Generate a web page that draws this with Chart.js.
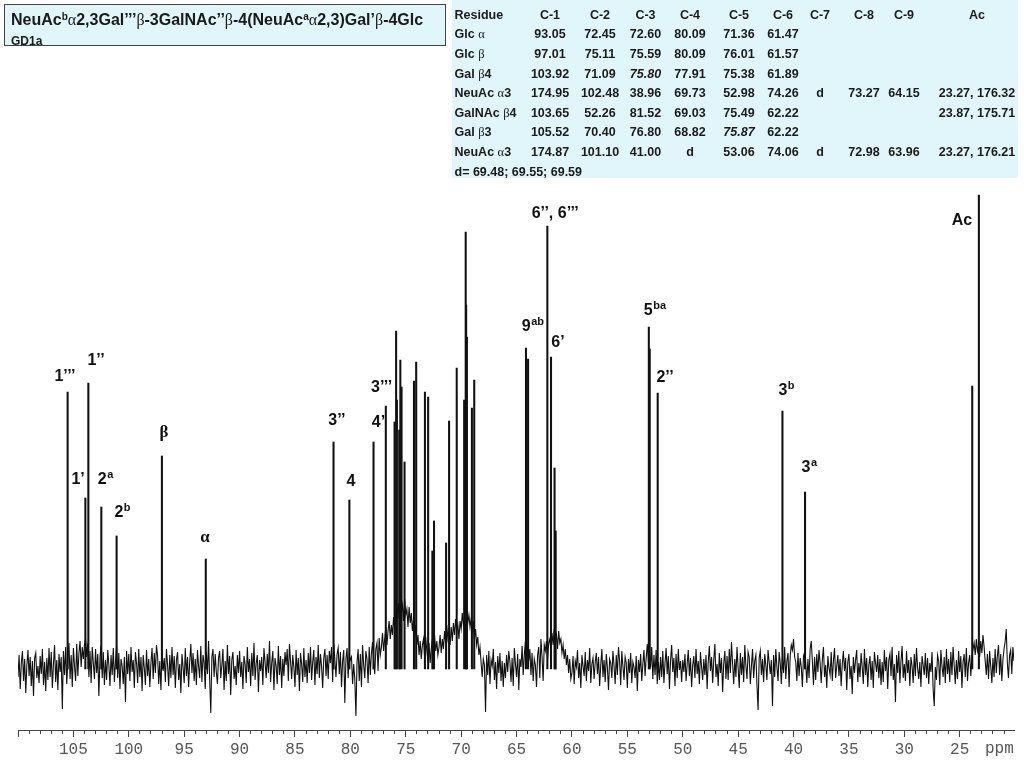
<!DOCTYPE html>
<html>
<head>
<meta charset="utf-8">
<script src="https://cdn.jsdelivr.net/npm/chart.js@4.4.1/dist/chart.umd.min.js"></script>
<style>
  html, body { margin: 0; padding: 0; background: #fff; }
  #wrap { position: relative; width: 1024px; height: 768px; overflow: hidden; }
  #chart { position: absolute; left: 0; top: 0; }
  .panel { position: absolute; background: #e1f6fa; color: #1a1a1a;
           font-family: "Liberation Sans", Arial, sans-serif; font-weight: bold; }
  #title { left: 4px; top: 4px; width: 440px; height: 40px; border: 1.5px solid #444; }
  #title .l1 { position: absolute; left: 6px; top: 5px; font-size: 16px; line-height: 20px; white-space: nowrap; }
  #title .l2 { position: absolute; left: 6px; top: 28px; font-size: 12px; line-height: 16px; }
  #title sup { font-size: 10px; vertical-align: 5px; line-height: 0; }
  .g { font-family: "Liberation Serif", serif; font-weight: normal; }
  #table { left: 452px; top: 0; width: 566px; height: 178px; font-size: 12.5px; }
  .cell { position: absolute; width: 120px; margin-left: -60px; margin-top: -8px;
          line-height: 16px; text-align: center; white-space: nowrap; }
  .cell.left { width: auto; margin-left: 0; text-align: left; }
  .cell i { font-style: italic; }
</style>
</head>
<body>
<div id="wrap">
  <canvas id="chart" width="1024" height="768"></canvas>
  <div id="title" class="panel">
    <div class="l1">NeuAc<sup>b</sup><span class="g">α</span>2,3Gal’’’<span class="g">β</span>-3GalNAc’’<span class="g">β</span>-4(NeuAc<sup>a</sup><span class="g">α</span>2,3)Gal’<span class="g">β</span>-4Glc</div>
    <div class="l2">GD1a</div>
  </div>
  <div id="table" class="panel"></div>
</div>
<script>
// table of chemical shifts
const tableHeader = ['Residue', 'C-1', 'C-2', 'C-3', 'C-4', 'C-5', 'C-6', 'C-7', 'C-8', 'C-9', 'Ac'];
const residues = ['Glc α', 'Glc β', 'Gal β4', 'NeuAc α3', 'GalNAc β4', 'Gal β3', 'NeuAc α3'];
const shiftRows = [
  ['93.05', '72.45', '72.60', '80.09', '71.36', '61.47', '', '', '', ''],
  ['97.01', '75.11', '75.59', '80.09', '76.01', '61.57', '', '', '', ''],
  ['103.92', '71.09', '*75.80', '77.91', '75.38', '61.89', '', '', '', ''],
  ['174.95', '102.48', '38.96', '69.73', '52.98', '74.26', 'd', '73.27', '64.15', '23.27, 176.32'],
  ['103.65', '52.26', '81.52', '69.03', '75.49', '62.22', '', '', '', '23.87, 175.71'],
  ['105.52', '70.40', '76.80', '68.82', '*75.87', '62.22', '', '', '', ''],
  ['174.87', '101.10', '41.00', 'd', '53.06', '74.06', 'd', '72.98', '63.96', '23.27, 176.21']
];
const dNote = 'd= 69.48; 69.55; 69.59';

// spectrum: baseline noise sampled every 0.1 ppm from 110 ppm downwards (one row = 2 ppm)
const ppmStart = 110;
const ppmStep = 0.1;
const noise = [
  -8, 14, -20, 6, 18, -12, 10, -24, 4, 19, -7, 12, -17, 8, -27, 11, 16, -9, 3, -14,
  13, -5, 20, -16, 7, -22, 11, -11, 21, -8, 17, -19, 5, 24, -13, 9, -21, 15, -3, 12,
  -40, 18, -6, 22, -15, 8, 26, -10, 14, -18, 21, 3, -12, 25, -7, 16, 28, 2, 22, 10,
  24, 30, 12, 26, -8, 18, -14, 22, 6, -10, 20, -4, 15, -27, 12, 24, -9, 17, -16, 9,
  -11, 19, 4, -17, 14, -6, 21, -13, 8, 23, -9, 16, -20, 10, 3, -15, 12, -33, 18, -5,
  15, -12, 22, -3, 9, -19, 17, 6, -14, 20, -8, 12, -22, 14, 1, -16, 19, -7, 10, -18,
  6, 21, -10, 16, -4, 24, 13, -15, 8, -21, 18, -2, 11, -13, 20, 4, -17, 14, -9, 22,
  -6, 13, -19, 9, 17, -11, 5, -24, 15, 2, -14, 21, -7, 12, -18, 8, 25, -4, 16, -12,
  10, -16, 19, 3, -9, 23, -13, 14, 6, -20, 17, -5, 28, -10, -44, 12, 20, -8, 15, -3,
  -15, 11, 18, -9, 4, 20, -21, 8, -12, 24, -5, 13, -26, 9, 17, -10, 3, -16, 14, -4,
  18, -8, 7, -20, 13, 5, -14, 22, -3, 10, -17, 16, -7, 26, -11, 6, 14, -23, 9, -2,
  12, -16, 21, 7, -9, 15, -4, 28, -13, 6, 18, -21, 11, 3, -15, 23, -6, 13, -19, 10,
  -7, 17, 4, 20, -12, 25, 8, -10, 14, 2, -18, 19, -6, 11, -22, 16, 5, -13, 21, -8,
  9, -14, 16, -4, 22, -11, 7, 19, -16, 12, -5, 24, -9, 15, 3, -19, 11, 20, -7, 14,
  -10, 18, 6, 22, -13, 26, 9, -8, 15, 21, -5, 17, -18, 8, 19, -34, 10, 21, -9, 15,
  9, 12, -15, 5, -10, -47, 7, 20, -12, 15, -18, 24, 4, -9, 18, 10, -14, 22, -6, 16,
  27, 9, -5, 20, 26, -2, 31, 14, 22, 36, 18, 30, 42, 24, 38, 48, 30, 44, 34, 52,
  40, 58, 46, 66, 50, 72, 56, 64, 48, 70, 54, 60, 42, 62, 46, 56, 38, 50, 32, 44,
  24, 34, 14, 28, 10, 24, 30, 12, 32, 18, 8, 26, 6, 20, 30, 10, 34, 18, 28, 14,
  22, 34, 16, 30, 20, 38, 26, 44, 30, 36, 24, 42, 28, 46, 34, 50, 38, 44, 30, 48,
  40, 56, 44, 52, 38, 58, 46, 54, 42, 50, 36, 48, 30, 40, 24, 32, 14, 22, 6, -8,
  10, 4, -43, 14, -6, 18, -15, 9, 3, 20, -11, 7, -20, 13, -4, 16, -12, 8, -18, 6,
  -9, 14, -3, 18, 7, -13, 11, -17, 21, 5, -8, 15, -21, 10, 2, 23, -6, 14, 28, 12,
  24, 8, 20, -6, 16, -12, 10, 4, -18, 14, 22, -9, 30, 12, -12, 24, 18, 28, 10, 26,
  30, 18, 36, 24, 40, 28, 34, 20, 38, 26, 30, 16, 24, 10, 20, 4, 14, -4, 10, -10,
  -4, 13, -15, 8, 2, 19, -9, 6, -19, 14, 3, -7, 17, -12, 9, -2, 21, -14, 5, 11,
  -10, 7, 16, -5, 12, -17, 4, 20, -8, 9, -13, 15, 1, -21, 10, 6, -9, 18, 3, -15,
  14, -6, 22, 8, -16, 18, 3, -11, 12, 6, -19, 10, -4, 16, -14, 7, 2, -9, 13, -22,
  9, -3, 15, -12, 5, 19, -7, 11, 25, 8, 16, 2, 22, -10, 14, -6, 19, -15, 7, -11,
  12, -8, 18, -14, 6, 21, -5, 13, -20, 9, 24, -3, 11, -17, 15, -9, 20, -1, 8, -13,
  9, -3, 15, -12, 5, 19, -7, 11, -18, 4, 13, -9, 20, -5, 8, -15, 17, 2, -11, 10,
  -6, 14, -20, 7, 23, -2, 12, -14, 9, 25, -8, 5, -17, 16, -4, 11, -23, 6, 18, -10,
  13, -11, 20, -4, 27, 6, -15, 10, -8, 22, 1, -19, 16, -6, 12, -13, 24, 3, -10, 17,
  12, -15, 3, 20, -9, 8, 14, -16, -41, 11, 18, -6, 10, -13, 15, 4, -11, 19, 7, -5,
  9, -37, 14, -8, 20, 2, -12, 17, 6, -15, 11, -4, 22, -10, 8, 16, -18, 13, 24, 19,
  30, 12, 7, -12, 16, -7, 11, 2, -18, 13, 17, 6, -14, 10, -9, 20, 28, 8, -16, 12,
  -11, 15, -3, 19, 6, -14, 9, 22, -8, 4, -19, 13, 1, -6, 17, -12, 8, 21, -9, 3,
  14, -7, 10, -17, 5, 18, -2, 11, -21, 7, 15, -10, 3, -25, 12, -4, 9, 19, -13, 6,
  -8, 16, 2, -15, 20, -6, 11, -18, 4, 13, -11, 8, -19, 17, 6, -3, 14, -9, 10, -16,
  7, -13, 19, -2, 12, -20, 9, 15, -7, 22, -11, 5, -33, 14, -4, 18, -14, 8, 23, -9,
  5, -12, 18, -4, 9, -17, 12, 3, -14, 15, -7, 21, 1, -10, 7, -18, 13, 4, -6, 16,
  -9, 11, -15, 6, -3, 17, -20, -37, 2, -11, 14, 8, -16, 19, 3, -8, 12, -14, 20, -5,
  10, -13, 17, -6, 22, 4, -15, 9, -10, 18, -3, 13, -19, 7, 15, -8, 21, -12, 6, 14,
  -7, 12, 20, 26, 14, 30, 18, 24, 12, 28, 16, 34, 22, 8, -6, 15, -10, 18, 3, -14,
  11, -8, 20, -4, 13, 24, -6, 15, -12, 9, 20, 27, 40, 6, -9, 14, 19, -5, 22, 8
];

// resonances (ppm) and their heights above the baseline
const peakPpm = [105.52, 103.92, 103.65, 102.48, 101.10, 97.01, 93.05, 81.52, 80.09, 77.91,
  76.80, 76.01, 75.87, 75.80, 75.59, 75.49, 75.38, 75.11, 74.26, 74.06,
  73.27, 72.98, 72.60, 72.45, 71.36, 71.09, 70.40, 69.73, 69.59, 69.55,
  69.48, 69.03, 68.82, 64.15, 63.96, 62.22, 61.89, 61.57, 61.47, 53.06,
  52.98, 52.26, 41.00, 38.96, 23.87, 23.27];
const peakHeight = [277, 171, 286, 162, 133, 213, 110, 227, 169, 227,
  263, 247, 338, 269, 239, 309, 282, 207, 288, 307,
  277, 272, 118, 148, 126, 248, 301, 269, 437, 364,
  332, 261, 289, 321, 310, 443, 312, 201, 138, 342,
  320, 276, 258, 177, 283, 474];

// assignment labels
const labelMain = ['1’’’', '1’’', '1’', '2', '2', 'β', 'α', '3’’', '4', '4’', '3’’’', '9', '6’’, 6’’’', '6’', '5', '2’’', '3', '3', 'Ac'];
const labelSup = ['', '', '', 'a', 'b', '', '', '', '', '', '', 'ab', '', '', 'ba', '', 'b', 'a', ''];
const labelPpm = [105.76, 102.96, 104.58, 102.1, 100.57, 96.82, 93.12, 81.21, 79.95, 77.46, 77.18, 63.52, 61.51, 61.26, 52.51, 51.6, 40.64, 38.57, 24.8];
const labelLevel = [292, 308, 189, 189, 156, 236, 131, 248, 187, 246, 281, 342, 455, 326, 358, 291, 278, 201, 448];

// build the shift table
const colCenters = [98, 148, 193.5, 238, 287, 331, 368, 412, 452, 525];
const rowTop = 14.7, rowGap = 19.6;
const tableEl = document.getElementById('table');

function greek(s) {
  return s.replace(/([αβ])/g, '<span class="g">$1</span>');
}
function addCell(html, x, y, left) {
  const d = document.createElement('div');
  d.className = left ? 'cell left' : 'cell';
  d.style.left = x + 'px';
  d.style.top = y + 'px';
  d.innerHTML = html;
  tableEl.appendChild(d);
}

addCell(tableHeader[0], 2.5, rowTop, true);
tableHeader.slice(1).forEach((h, c) => addCell(h, colCenters[c], rowTop));
residues.forEach((r, i) => {
  const y = rowTop + rowGap * (i + 1);
  addCell(greek(r), 2.5, y, true);
  shiftRows[i].forEach((v, c) => {
    if (!v) return;
    const html = v.startsWith('*') ? '<i>' + v.slice(1) + '</i>' : v;
    addCell(html, colCenters[c], y);
  });
});
addCell(dNote, 2.5, rowTop + rowGap * 8, true);

// chart
const spectrum = noise.map((v, i) => ({ x: ppmStart - i * ppmStep, y: v }));
const sticks = peakPpm.map((p, i) => ({ x: p, y: [0, peakHeight[i]] }));

const labelFont = 'bold 16px "Liberation Sans", Arial, sans-serif';
const supFont = 'bold 11px "Liberation Sans", Arial, sans-serif';
const greekFont = 'bold 17px "Liberation Serif", serif';

const peakLabels = {
  id: 'peakLabels',
  afterDatasetsDraw(chart) {
    const { ctx, scales: { x, y } } = chart;
    ctx.save();
    ctx.fillStyle = '#111';
    ctx.textBaseline = 'middle';
    ctx.textAlign = 'left';
    labelMain.forEach((m, i) => {
      const sup = labelSup[i];
      const mainFont = /[αβ]/.test(m) ? greekFont : labelFont;
      ctx.font = mainFont;
      const wm = ctx.measureText(m).width;
      ctx.font = supFont;
      const ws = sup ? ctx.measureText(sup).width + 0.5 : 0;
      const px = x.getPixelForValue(labelPpm[i]) - (wm + ws) / 2;
      const py = y.getPixelForValue(labelLevel[i]);
      ctx.font = mainFont;
      ctx.fillText(m, px, py);
      if (sup) {
        ctx.font = supFont;
        ctx.fillText(sup, px + wm + 0.5, py - 5);
      }
    });
    ctx.restore();

    // axis unit, cut off by the right edge as in the original
    ctx.save();
    ctx.beginPath();
    ctx.rect(0, 0, chart.chartArea.right, chart.height);
    ctx.clip();
    ctx.font = '16px "Liberation Mono", monospace';
    ctx.fillStyle = '#555';
    ctx.textBaseline = 'middle';
    ctx.fillText('ppm', 985, 749);
    ctx.restore();
  }
};

new Chart(document.getElementById('chart'), {
  type: 'line',
  data: {
    datasets: [
      {
        type: 'line',
        data: spectrum,
        borderColor: '#111',
        borderWidth: 1.1,
        pointRadius: 0,
        tension: 0
      },
      {
        type: 'bar',
        data: sticks,
        backgroundColor: '#111',
        borderWidth: 0,
        barThickness: 1.4,
        grouped: false
      }
    ]
  },
  options: {
    responsive: false,
    animation: false,
    layout: { padding: { left: 18, right: 10, top: 190, bottom: 0 } },
    plugins: { legend: { display: false }, tooltip: { enabled: false } },
    scales: {
      x: {
        type: 'linear',
        reverse: true,
        min: 20.1,
        max: 110,
        offset: false,
        grid: {
          drawOnChartArea: false,
          offset: false,
          tickLength: 7,
          tickColor: '#444',
          tickBorderDash: ctx => (ctx.tick && ctx.tick.value % 5 === 0) ? [] : [3, 10]
        },
        border: { display: true, color: '#444', width: 1 },
        ticks: {
          stepSize: 1,
          autoSkip: false,
          includeBounds: false,
          maxRotation: 0,
          padding: 3,
          color: '#555',
          font: { family: '"Liberation Mono", monospace', size: 16 },
          callback: v => (v % 5 === 0 && v < 110) ? String(v) : ''
        },
        afterFit: s => { s.height = 38; }
      },
      y: { display: false, min: -61, max: 479 }
    }
  },
  plugins: [peakLabels]
});
</script>
</body>
</html>
